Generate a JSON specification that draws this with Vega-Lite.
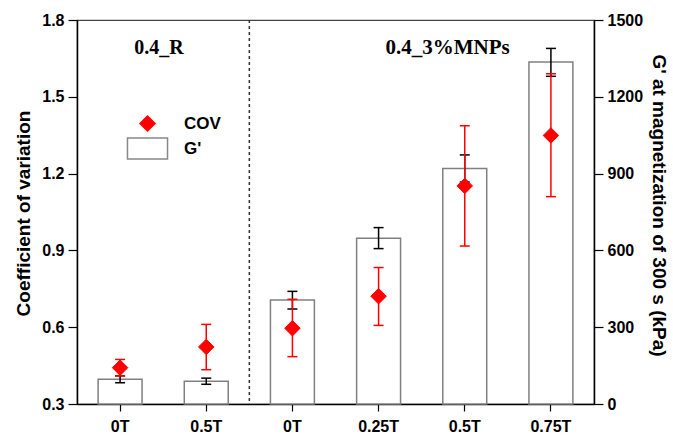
{
  "$schema": "https://vega.github.io/schema/vega-lite/v6.json",
  "width": 517,
  "height": 384,
  "autosize": {"type": "none"},
  "padding": {"left": 77, "top": 20, "right": 79, "bottom": 31},
  "background": "white",
  "config": {
    "view": {"stroke": "#444444", "strokeWidth": 1.2},
    "font": "Liberation Sans"
  },
  "datasets": {
    "main": [
      {"cat": "R_0T", "series": "COV", "cov": 0.442, "cov_lo": 0.41, "cov_hi": 0.474, "g": 97, "g_lo": 83, "g_hi": 110},
      {"cat": "R_0.5T", "series": "COV", "cov": 0.523, "cov_lo": 0.434, "cov_hi": 0.611, "g": 89, "g_lo": 77, "g_hi": 101},
      {"cat": "M_0T", "series": "COV", "cov": 0.596, "cov_lo": 0.485, "cov_hi": 0.709, "g": 406, "g_lo": 371, "g_hi": 440},
      {"cat": "M_0.25T", "series": "COV", "cov": 0.721, "cov_lo": 0.607, "cov_hi": 0.833, "g": 647, "g_lo": 607, "g_hi": 689},
      {"cat": "M_0.5T", "series": "COV", "cov": 1.152, "cov_lo": 0.917, "cov_hi": 1.387, "g": 920, "g_lo": 867, "g_hi": 973},
      {"cat": "M_0.75T", "series": "COV", "cov": 1.349, "cov_lo": 1.11, "cov_hi": 1.59, "g": 1336, "g_lo": 1280, "g_hi": 1389}
    ],
    "divider": [{"cat": "M_0T"}],
    "groupR": [{"cat": "R_0T", "label": "0.4_R", "yv": 1.69}],
    "groupM": [{"cat": "M_0.5T", "label": "0.4_3%MNPs", "yv": 1.69}]
  },
  "data": {"name": "main"},
  "layer": [
    {
      "layer": [
        {
          "mark": {"type": "bar", "fill": "white", "stroke": "#808080", "strokeWidth": 1.5, "opacity": 1, "width": {"band": 0.51}},
          "encoding": {
            "x": {
              "field": "cat", "type": "nominal",
              "scale": {"domain": ["R_0T", "R_0.5T", "M_0T", "M_0.25T", "M_0.5T", "M_0.75T"], "paddingInner": 0, "paddingOuter": 0},
              "axis": {
                "title": null,
                "labelExpr": "split(datum.value, '_')[1]",
                "labelAngle": 0,
                "labelFontSize": 16,
                "labelFontWeight": "bold",
                "labelColor": "black",
                "labelPadding": 7,
                "tickSize": 7,
                "tickColor": "black",
                "tickWidth": 1.2,
                "domainColor": "black",
                "domainWidth": 1.5
              }
            },
            "y": {
              "field": "g", "type": "quantitative",
              "title": "G' at magnetization of 300 s (kPa)",
              "scale": {"domain": [0, 1500], "nice": false, "zero": true},
              "axis": {
                "orient": "right",
                "values": [0, 150, 300, 450, 600, 750, 900, 1050, 1200, 1350, 1500],
                "labelExpr": "datum.value % 300 == 0 ? format(datum.value, 'd') : ''",
                "tickSize": {"condition": {"test": "datum.value % 300 == 0", "value": 9}, "value": 5},
                "labelPadding": 4,
                "labelFlush": false,
                "labelFontSize": 16,
                "labelFontWeight": "bold",
                "labelColor": "black",
                "tickColor": "black",
                "tickWidth": 1.2,
                "domainColor": "black",
                "domainWidth": 1.5,
                "grid": false,
                "titleFontSize": 19,
                "titleFontWeight": "bold",
                "titleColor": "black",
                "titleAngle": 90,
                "titleBaseline": "middle",
                "titleX": 64,
                "titleY": 185
              }
            }
          }
        },
        {
          "mark": {"type": "rule", "color": "black", "strokeWidth": 1.5},
          "encoding": {
            "x": {"field": "cat", "type": "nominal"},
            "y": {"field": "g_lo", "type": "quantitative", "title": "G' at magnetization of 300 s (kPa)"},
            "y2": {"field": "g_hi"}
          }
        },
        {
          "mark": {"type": "tick", "color": "black", "thickness": 1.5, "size": 10, "opacity": 1},
          "encoding": {
            "x": {"field": "cat", "type": "nominal"},
            "y": {"field": "g_lo", "type": "quantitative", "title": "G' at magnetization of 300 s (kPa)"}
          }
        },
        {
          "mark": {"type": "tick", "color": "black", "thickness": 1.5, "size": 10, "opacity": 1},
          "encoding": {
            "x": {"field": "cat", "type": "nominal"},
            "y": {"field": "g_hi", "type": "quantitative", "title": "G' at magnetization of 300 s (kPa)"}
          }
        }
      ]
    },
    {
      "layer": [
        {
          "data": {"name": "divider"},
          "mark": {"type": "rule", "color": "#333333", "strokeWidth": 1.5, "strokeDash": [3, 3]},
          "encoding": {
            "x": {"field": "cat", "type": "nominal", "bandPosition": 0}
          }
        },
        {
          "mark": {"type": "rule", "color": "#ff0000", "strokeWidth": 1.5},
          "encoding": {
            "x": {"field": "cat", "type": "nominal"},
            "y": {
              "field": "cov_lo", "type": "quantitative",
              "title": "Coefficient of variation",
              "scale": {"domain": [0.3, 1.8], "nice": false, "zero": false},
              "axis": {
                "orient": "left",
                "values": [0.3, 0.45, 0.6, 0.75, 0.9, 1.05, 1.2, 1.35, 1.5, 1.65, 1.8],
                "labelExpr": "round(datum.value * 100) % 30 == 0 ? format(datum.value, '.1f') : ''",
                "tickSize": {"condition": {"test": "round(datum.value * 100) % 30 == 0", "value": 9}, "value": 5},
                "labelPadding": 4,
                "labelFlush": false,
                "labelFontSize": 16,
                "labelFontWeight": "bold",
                "labelColor": "black",
                "tickColor": "black",
                "tickWidth": 1.2,
                "domainColor": "black",
                "domainWidth": 1.5,
                "grid": false,
                "titleFontSize": 19,
                "titleFontWeight": "bold",
                "titleColor": "black",
                "titleBaseline": "middle",
                "titleX": -54,
                "titleY": 193
              }
            },
            "y2": {"field": "cov_hi"}
          }
        },
        {
          "mark": {"type": "tick", "color": "#ff0000", "thickness": 1.5, "size": 10, "opacity": 1},
          "encoding": {
            "x": {"field": "cat", "type": "nominal"},
            "y": {"field": "cov_lo", "type": "quantitative", "title": "Coefficient of variation"}
          }
        },
        {
          "mark": {"type": "tick", "color": "#ff0000", "thickness": 1.5, "size": 10, "opacity": 1},
          "encoding": {
            "x": {"field": "cat", "type": "nominal"},
            "y": {"field": "cov_hi", "type": "quantitative", "title": "Coefficient of variation"}
          }
        },
        {
          "mark": {"type": "point", "filled": true, "size": 240, "opacity": 1, "strokeWidth": 1},
          "encoding": {
            "x": {"field": "cat", "type": "nominal"},
            "y": {"field": "cov", "type": "quantitative", "title": "Coefficient of variation"},
            "color": {
              "field": "series", "type": "nominal",
              "scale": {"domain": ["COV", "G'"], "range": ["#ff0000", "#ffffff"]},
              "legend": {
                "orient": "none", "legendX": 62, "legendY": 95, "title": null, "padding": 0,
                "labelFont": "Liberation Sans", "labelFontSize": 17, "labelFontWeight": "bold", "labelColor": "black",
                "symbolSize": 225, "symbolStrokeWidth": 1.5, "symbolOpacity": 1, "labelOffset": 28, "rowPadding": 1
              }
            },
            "shape": {
              "field": "series", "type": "nominal",
              "scale": {"domain": ["COV", "G'"], "range": ["diamond", "M-2.67,-1.4H2.67V1.4H-2.67Z"]},
              "legend": {
                "orient": "none", "legendX": 62, "legendY": 95, "title": null, "padding": 0,
                "labelFont": "Liberation Sans", "labelFontSize": 17, "labelFontWeight": "bold", "labelColor": "black",
                "symbolSize": 225, "symbolStrokeWidth": 1.5, "symbolOpacity": 1, "labelOffset": 28, "rowPadding": 1
              }
            },
            "stroke": {
              "field": "series", "type": "nominal",
              "scale": {"domain": ["COV", "G'"], "range": ["#ff0000", "#888888"]},
              "legend": {
                "orient": "none", "legendX": 62, "legendY": 95, "title": null, "padding": 0,
                "labelFont": "Liberation Sans", "labelFontSize": 17, "labelFontWeight": "bold", "labelColor": "black",
                "symbolSize": 225, "symbolStrokeWidth": 1.5, "symbolOpacity": 1, "labelOffset": 28, "rowPadding": 1
              }
            }
          }
        },
        {
          "data": {"name": "groupR"},
          "mark": {"type": "text", "font": "Liberation Serif", "fontWeight": "bold", "fontSize": 20, "color": "black", "baseline": "middle", "align": "center"},
          "encoding": {
            "x": {"field": "cat", "type": "nominal", "bandPosition": 0.95},
            "y": {"field": "yv", "type": "quantitative", "title": "Coefficient of variation"},
            "text": {"field": "label", "type": "nominal"}
          }
        },
        {
          "data": {"name": "groupM"},
          "mark": {"type": "text", "font": "Liberation Serif", "fontWeight": "bold", "fontSize": 21, "color": "black", "baseline": "middle", "align": "center"},
          "encoding": {
            "x": {"field": "cat", "type": "nominal", "bandPosition": 0.3},
            "y": {"field": "yv", "type": "quantitative", "title": "Coefficient of variation"},
            "text": {"field": "label", "type": "nominal"}
          }
        }
      ]
    }
  ],
  "resolve": {"scale": {"y": "independent"}}
}
